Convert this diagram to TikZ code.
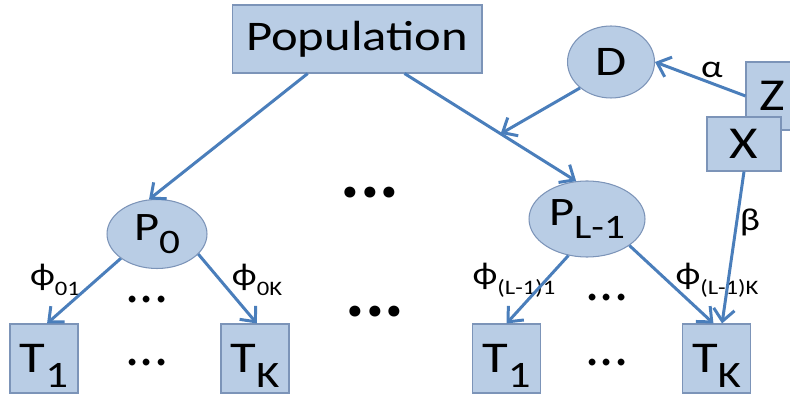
\documentclass[tikz,border=0pt]{standalone}
\usepackage{fontspec}
\setmainfont{Carlito}[FakeStretch=1.2]
\newfontfamily\plainfont{Carlito}
\usepackage{graphicx}
\usepackage{tikz}
\usetikzlibrary{shapes.geometric,arrows.meta}
\usepackage{xcolor}
\definecolor{boxfill}{HTML}{B9CDE5}
\definecolor{boxline}{HTML}{7C94B8}
\definecolor{arrblue}{HTML}{4A7EBB}
\newcommand{\lowsub}[2][0.85]{\raisebox{-0.33em}{\scalebox{#1}{#2}}}

\begin{document}
\begin{tikzpicture}[
  x=0.02cm, y=-0.02cm,
  box/.style={draw=boxline, line width=0.6pt, fill=boxfill, inner sep=0pt},
  oval/.style={box, ellipse},
  tbox/.style={box, minimum width=1.36cm, minimum height=1.38cm, text depth=0pt, font=\fontsize{25}{28}\selectfont},
  lbl/.style={inner sep=0pt, font=\fontsize{18}{20}\selectfont},
  dots/.style={inner sep=0pt, font=\plainfont\fontsize{32}{34}\selectfont},
  bigdots/.style={inner sep=0pt, font=\plainfont\bfseries\fontsize{42}{44}\selectfont},
  arr/.style={draw=arrblue, line width=1.7pt, -{Straight Barb[length=2.4mm, width=4.2mm]}}
]
  \useasboundingbox (0,0) rectangle (790,394);

  \node[box, minimum width=5cm, minimum height=1.36cm, font=\fontsize{24}{28}\selectfont] (pop) at (357,39) {Population};
  \node[oval, minimum width=1.74cm, minimum height=1.44cm, font=\fontsize{24}{26}\selectfont] (D) at (611,62) {D};
  \node[box, minimum width=1.04cm, minimum height=1.36cm, font=\fontsize{26}{28}\selectfont] (Z) at (772,96) {Z};
  \node[box, minimum width=1.48cm, minimum height=1.08cm, font=\fontsize{26}{28}\selectfont] (X) at (744,144) {X};
  \node[oval, minimum width=2cm, minimum height=1.38cm, font=\fontsize{23}{26}\selectfont] (P0) at (157,234) {P\lowsub{0}};
  \node[oval, minimum width=2.32cm, minimum height=1.52cm, font=\fontsize{23}{26}\selectfont] (PL) at (587,219) {P\lowsub{L-1}};
  \node[tbox] (T1a) at (44,358.5) {T\lowsub{1}};
  \node[tbox] (TKa) at (255,358.5) {T\lowsub{K}};
  \node[tbox] (T1b) at (506.5,358.5) {T\lowsub{1}};
  \node[tbox] (TKb) at (716.5,358.5) {T\lowsub{K}};

  % edge labels
  \node[lbl] (phiA) at (55,280) {ϕ\lowsub[0.65]{01}};
  \node[lbl] (phiB) at (257,280) {ϕ\lowsub[0.65]{0K}};
  \node[lbl] (phiC) at (514,280) {ϕ\lowsub[0.65]{(L-1)1}};
  \node[lbl] (phiD) at (717,280) {ϕ\lowsub[0.65]{(L-1)K}};
  \node[lbl] (alpha) at (712,70) {α};
  \node[lbl] (beta) at (750,222) {β};

  % dots
  \node[bigdots] (gapA) at (370,193) {...};
  \node[bigdots] (gapB) at (375,312) {...};
  \node[dots] (midA) at (147,300) {...};
  \node[dots] (lowA) at (147,363) {...};
  \node[dots] (midB) at (607,298) {...};
  \node[dots] (lowB) at (607,363) {...};

  \draw[arr] (pop.215) -- (P0.103);
  \draw[arr] (pop.-36) -- coordinate[pos=0.56] (hit) (PL.106);
  \draw[arr] (D.220) -- (hit);
  \draw[arr] (Z.west) -- (D.east);
  \draw[arr] (X.south) -- (TKb.81);
  \draw[arr] (P0.214) -- (T1a.85);
  \draw[arr] (P0.-26) -- (TKa.87);
  \draw[arr] (PL.243) -- (T1b.north);
  \draw[arr] (PL.-32) -- (TKb.95);
\end{tikzpicture}
\end{document}
